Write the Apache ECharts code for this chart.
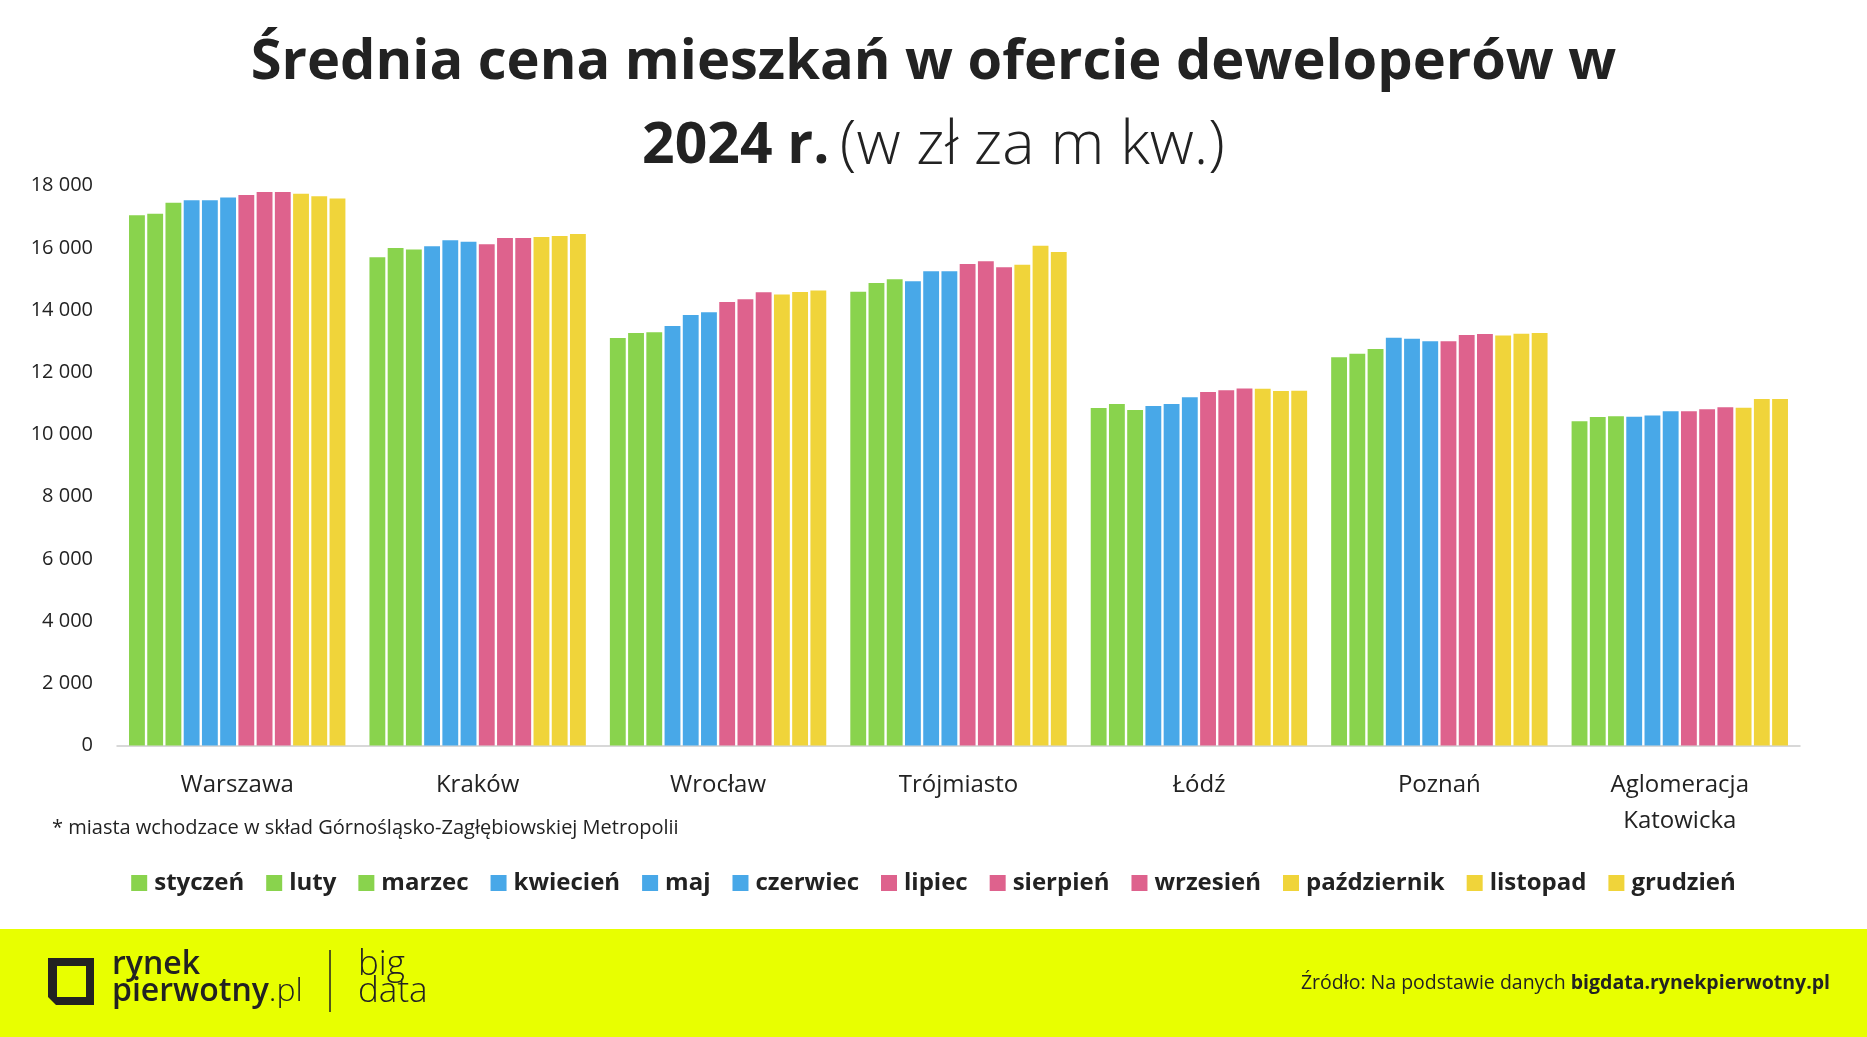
<!DOCTYPE html>
<html><head><meta charset="utf-8">
<script src="https://cdn.jsdelivr.net/npm/echarts@6/dist/echarts.min.js"></script>
<style>html,body{margin:0;padding:0;background:#fff}#c{width:1867px;height:1037px}</style>
</head><body><div id="c"></div>
<script>
const categories = ['Warszawa', 'Kraków', 'Wrocław', 'Trójmiasto', 'Łódź', 'Poznań', 'Aglomeracja\nKatowicka'];
const months = ['styczeń', 'luty', 'marzec', 'kwiecień', 'maj', 'czerwiec', 'lipiec', 'sierpień', 'wrzesień', 'październik', 'listopad', 'grudzień'];
const monthColors = ['#89D34D', '#89D34D', '#89D34D', '#48A8E8', '#48A8E8', '#48A8E8', '#DE628D', '#DE628D', '#DE628D', '#F0D43A', '#F0D43A', '#F0D43A'];

const warszawa   = [17050, 17100, 17450, 17530, 17530, 17620, 17700, 17800, 17800, 17740, 17660, 17590];
const krakow     = [15700, 16000, 15950, 16050, 16250, 16200, 16120, 16320, 16320, 16350, 16380, 16450];
const wroclaw    = [13100, 13260, 13290, 13490, 13840, 13930, 14260, 14350, 14570, 14500, 14580, 14630];
const trojmiasto = [14590, 14870, 14990, 14930, 15250, 15250, 15480, 15570, 15380, 15460, 16070, 15870];
const lodz       = [10850, 10980, 10790, 10920, 10980, 11200, 11370, 11420, 11480, 11470, 11400, 11410];
const poznan     = [12480, 12600, 12750, 13110, 13080, 13000, 13000, 13200, 13230, 13180, 13240, 13260];
const katowice   = [10430, 10560, 10590, 10570, 10610, 10750, 10750, 10810, 10880, 10860, 11140, 11140];
const cityValues = [warszawa, krakow, wroclaw, trojmiasto, lodz, poznan, katowice];

const yTicks = { min: 0, max: 18000, interval: 2000 };

const FONT = 'Open Sans';
const DARK = '#222222';

const series = months.map((m, i) => ({
  name: m,
  type: 'bar',
  data: cityValues.map(c => c[i]),
  itemStyle: { color: monthColors[i] },
  barGap: '15%',
  barCategoryGap: '10%',
  emphasis: { disabled: true }
}));

const chart = echarts.init(document.getElementById('c'), null, { renderer: 'canvas' });
chart.setOption({
  animation: false,
  backgroundColor: '#ffffff',
  textStyle: { fontFamily: FONT },
  title: [
    {
      text: 'Średnia cena mieszkań w ofercie deweloperów w',
      left: 'center', top: 30,
      textStyle: { fontFamily: FONT, fontSize: 56, fontWeight: 'bold', color: DARK }
    },
    {
      text: '{b|2024 r.}{s| }{r|(w zł za m kw.)}',
      left: 'center', top: 111,
      textStyle: {
        rich: {
          b: { fontFamily: FONT, fontSize: 57, fontWeight: 'bold', color: DARK },
          s: { fontFamily: FONT, fontSize: 40, color: DARK },
          r: { fontFamily: FONT, fontSize: 61, fontWeight: 300, color: DARK }
        }
      }
    }
  ],
  grid: { left: 117, right: 67, top: 185.7, bottom: 291.5, containLabel: false },
  legend: {
    data: months,
    top: 866,
    left: 'center',
    icon: 'rect',
    itemWidth: 16,
    itemHeight: 16,
    itemGap: 22,
    textStyle: { fontFamily: FONT, fontSize: 24, fontWeight: 'bold', color: DARK, padding: [0, 0, 0, 2] }
  },
  xAxis: {
    type: 'category',
    data: categories,
    axisLine: { lineStyle: { color: '#cccccc', width: 1.5 } },
    axisTick: { show: false },
    axisLabel: { fontFamily: FONT, fontSize: 24, color: DARK, margin: 22, lineHeight: 36, interval: 0 }
  },
  yAxis: {
    type: 'value',
    min: yTicks.min, max: yTicks.max, interval: yTicks.interval,
    splitLine: { show: false },
    axisLine: { show: false },
    axisTick: { show: false },
    axisLabel: {
      fontFamily: FONT, fontSize: 20, color: DARK, margin: 24,
      formatter: v => String(v).replace(/\B(?=(\d{3})+(?!\d))/g, ' ')
    }
  },
  series: series,
  graphic: [
    {
      type: 'text', left: 52, top: 818,
      style: { text: '* miasta wchodzace w skład Górnośląsko-Zagłębiowskiej Metropolii', font: '20px "Open Sans"', fill: DARK }
    },
    {
      type: 'rect', shape: { x: 0, y: 929, width: 1867, height: 108 },
      style: { fill: '#E8FF00' }, z: 0
    },
    {
      type: 'polygon', z: 10,
      shape: { points: [[50, 958], [94, 958], [94, 1005], [56, 1005], [48, 997], [48, 958]] },
      style: { fill: '#222222' }
    },
    {
      type: 'rect', z: 11,
      shape: { x: 57, y: 966, width: 29, height: 31 },
      style: { fill: '#E8FF00' }
    },
    {
      type: 'text', z: 10, left: 112, top: 949,
      style: { text: 'rynek', font: '600 32px "Open Sans"', fill: DARK }
    },
    {
      type: 'text', z: 10, left: 112, top: 976,
      style: {
        text: '{a|pierwotny}{b|.pl}',
        rich: {
          a: { font: '600 32px "Open Sans"', fill: DARK },
          b: { font: '300 32px "Open Sans"', fill: DARK }
        }
      }
    },
    {
      type: 'line', z: 10,
      shape: { x1: 330, y1: 950, x2: 330, y2: 1012 },
      style: { stroke: DARK, lineWidth: 1.5 }
    },
    {
      type: 'text', z: 10, left: 358, top: 948,
      style: { text: 'big', font: '300 35px "Open Sans"', fill: DARK }
    },
    {
      type: 'text', z: 10, left: 358, top: 975,
      style: { text: 'data', font: '300 35px "Open Sans"', fill: DARK }
    },
    {
      type: 'text', z: 10, right: 37, top: 973,
      style: {
        text: '{a|Źródło: Na podstawie danych }{b|bigdata.rynekpierwotny.pl}',
        rich: {
          a: { font: '19.5px "Open Sans"', fill: DARK },
          b: { font: 'bold 19.5px "Open Sans"', fill: DARK }
        }
      }
    }
  ]
});
</script>
</body></html>
